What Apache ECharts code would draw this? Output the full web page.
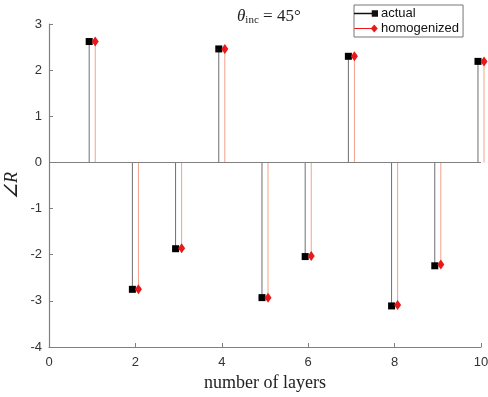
<!DOCTYPE html>
<html>
<head>
<meta charset="utf-8">
<script src="https://cdn.jsdelivr.net/npm/echarts@6/dist/echarts.min.js"></script>
<style>
  html, body { margin: 0; padding: 0; background: #fff; }
  #chart { width: 488px; height: 397px; }
</style>
</head>
<body>
<div id="chart"></div>
<script>
const layers = [1, 2, 3, 4, 5, 6, 7, 8, 9, 10];
const actual = [2.62, -2.75, -1.87, 2.46, -2.93, -2.04, 2.30, -3.11, -2.24, 2.19];
const homogenized = [2.62, -2.75, -1.86, 2.46, -2.93, -2.03, 2.30, -3.09, -2.21, 2.19];
const xTicks = [0, 2, 4, 6, 8, 10];
const yTicks = [-4, -3, -2, -1, 0, 1, 2, 3];

const chart = echarts.init(document.getElementById('chart'));

// stem: line from zero to value, marker on top
function stem(stemColor, markColor, shape, dx) {
  return function (params, api) {
    const x = api.value(0) + dx;
    const p = api.coord([x, api.value(1)]);
    const b = api.coord([x, 0]);
    let mark;
    if (shape === 'square') {
      mark = { type: 'rect', shape: { x: p[0] - 3.5, y: p[1] - 3.5, width: 7, height: 7 }, style: { fill: markColor } };
    } else {
      mark = { type: 'polygon', shape: { points: [[p[0], p[1] - 5], [p[0] + 3.5, p[1]], [p[0], p[1] + 5], [p[0] - 3.5, p[1]]] }, style: { fill: markColor } };
    }
    return {
      type: 'group',
      children: [
        { type: 'line', shape: { x1: p[0], y1: b[1], x2: p[0], y2: p[1] }, style: { stroke: stemColor, lineWidth: 1 } },
        mark
      ]
    };
  };
}

const option = {
  animation: false,
  title: {
    text: '{t|θ}{s|inc}{e| = 45°}',
    left: 232,
    top: 2,
    textStyle: {
      fontWeight: 'normal',
      rich: {
        t: { fontFamily: 'Liberation Serif', fontStyle: 'italic', fontWeight: 'normal', fontSize: 17, color: '#222' },
        s: { fontFamily: 'Liberation Serif', fontWeight: 'normal', fontSize: 11, color: '#222', padding: [8, 0, 0, 0] },
        e: { fontFamily: 'Liberation Serif', fontWeight: 'normal', fontSize: 17, color: '#222' }
      }
    }
  },
  legend: {
    orient: 'vertical',
    left: 354,
    top: 5,
    padding: [2, 4, 2, 0],
    itemGap: 2,
    itemWidth: 24,
    itemHeight: 8,
    borderColor: '#777',
    borderWidth: 1,
    textStyle: { fontFamily: 'Liberation Sans', fontSize: 13, color: '#111', padding: [0, 0, 0, -2] },
    data: [
      { name: 'actual', icon: 'path://M0,3.4H18V4.6H0Z M17,1H23V7H17Z', itemStyle: { color: '#111' } },
      { name: 'homogenized', icon: 'path://M0,3.4H18V4.6H0Z M20,0L23.5,4L20,8L16.5,4Z', itemStyle: { color: '#e8191a' } }
    ]
  },
  grid: { left: 49, right: 7, top: 24, bottom: 50, outerBoundsMode: 'none', containLabel: false },
  xAxis: {
    type: 'value',
    min: 0,
    max: 10,
    interval: 2,
    name: 'number of layers',
    nameLocation: 'middle',
    nameGap: 25,
    nameTextStyle: { fontFamily: 'Liberation Serif', fontSize: 18, color: '#222' },
    axisLine: { onZero: false, lineStyle: { color: '#808080', width: 1.2 } },
    axisTick: { inside: true, length: 4, lineStyle: { color: '#808080' } },
    axisLabel: { color: '#333', fontFamily: 'Liberation Sans', fontSize: 13, margin: 9,
      formatter: v => xTicks.includes(v) ? String(v) : '' },
    splitLine: { show: false }
  },
  yAxis: {
    type: 'value',
    min: -4,
    max: 3,
    interval: 1,
    name: '∠R',
    nameLocation: 'middle',
    nameRotate: 90,
    nameGap: 28,
    nameMoveOverlap: false,
    nameTextStyle: { fontFamily: 'Liberation Serif', fontStyle: 'italic', fontSize: 18, color: '#222' },
    axisLine: { onZero: false, lineStyle: { color: '#808080', width: 1.2 } },
    axisTick: { show: true, inside: true, length: 4, lineStyle: { color: '#808080' } },
    axisLabel: { color: '#333', fontFamily: 'Liberation Sans', fontSize: 13, margin: 7,
      formatter: v => yTicks.includes(v) ? String(v) : '' },
    splitLine: { show: false }
  },
  series: [
    {
      name: 'actual',
      type: 'custom',
      itemStyle: { color: '#111' },
      renderItem: stem('#6e6e6e', '#000', 'square', -0.07),
      data: layers.map((l, i) => [l, actual[i]]),
      markLine: {
        silent: true,
        symbol: 'none',
        label: { show: false },
        lineStyle: { color: '#808080', width: 1.2, type: 'solid' },
        data: [{ yAxis: 0 }]
      },
      z: 3
    },
    {
      name: 'homogenized',
      type: 'custom',
      itemStyle: { color: '#e8191a' },
      renderItem: stem('#f4a08c', '#e8191a', 'diamond', 0.07),
      data: layers.map((l, i) => [l, homogenized[i]]),
      z: 4
    }
  ]
};

chart.setOption(option);
</script>
</body>
</html>
